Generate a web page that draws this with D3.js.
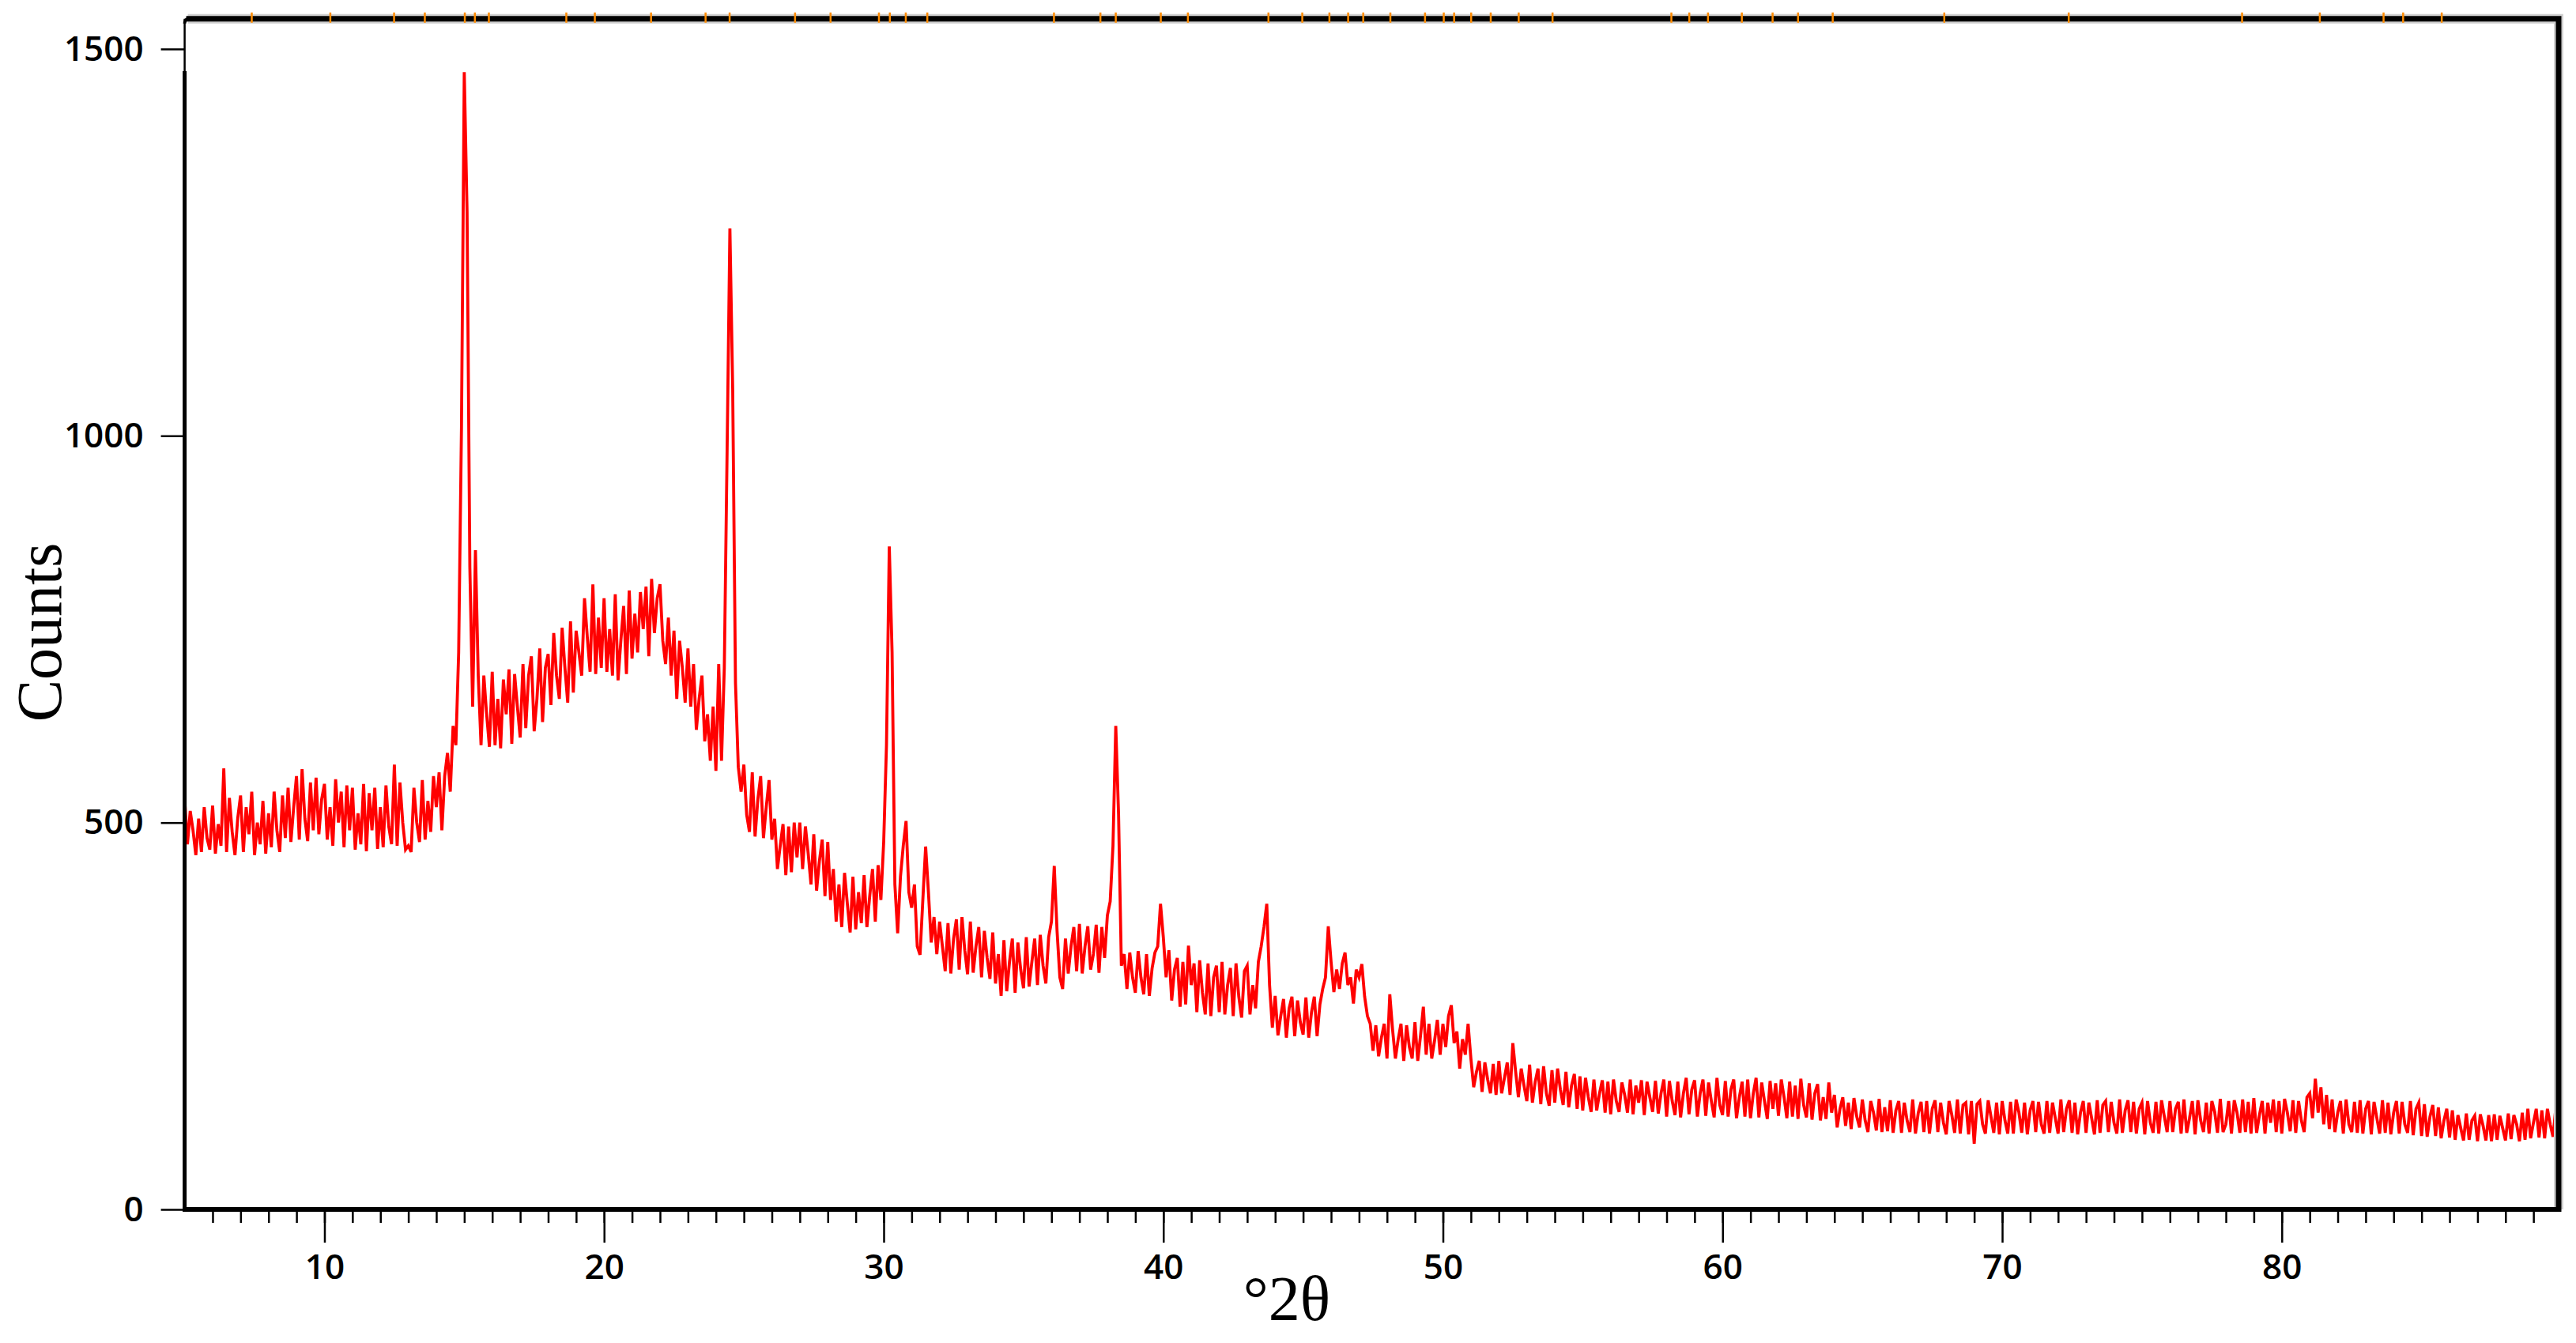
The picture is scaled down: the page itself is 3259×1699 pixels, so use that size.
<!DOCTYPE html>
<html>
<head>
<meta charset="utf-8">
<script src="https://cdn.jsdelivr.net/npm/d3@7"></script>
<style>
  body { margin: 0; background: #fff; }
  .tick text { font-family: "Open Sans", "Noto Sans", sans-serif; font-weight: 600; font-size: 44px; fill: #000; }
  .tick line { stroke: #000; stroke-width: 2.5; }
  .title { font-family: "Liberation Serif", "Times New Roman", serif; font-size: 80px; fill: #000; }
</style>
</head>
<body>
<div id="xrd"></div>
<script>
////////////////////////////////////////////////////////////
// DATA
////////////////////////////////////////////////////////////
// scan starts at 5 deg 2theta, one reading every 0.1 deg (one row = one degree)
var scanStart = 5.0;
var scanStep = 0.1;
var counts = [
  530, 472, 515, 490, 458, 505, 462, 520, 480, 465,   // 5
  522, 460, 498, 470, 570, 462, 532, 488, 458, 506,   // 6
  535, 462, 520, 485, 540, 458, 500, 472, 528, 460,   // 7
  512, 468, 540, 490, 462, 535, 480, 545, 475, 520,   // 8
  560, 478, 569, 505, 476, 552, 490, 558, 485, 530,   // 9
  550, 478, 520, 470, 556, 500, 540, 468, 548, 490,   // 10
  545, 465, 512, 472, 550, 463, 538, 490, 545, 466,   // 11
  520, 468, 548, 495, 472, 575, 470, 552, 500, 465,   // 12
  470, 462, 545, 500, 475, 555, 478, 528, 488, 560,   // 13
  520, 565, 490, 560, 590, 540, 625, 600, 720, 1010,  // 14
  1470, 1290, 830, 650, 852, 690, 600, 690, 640, 598, // 15
  695, 600, 660, 596, 685, 640, 698, 602, 692, 650,   // 16
  610, 705, 622, 690, 715, 618, 660, 725, 630, 700,   // 17
  718, 652, 745, 690, 660, 752, 700, 655, 760, 668,   // 18
  748, 720, 690, 790, 740, 695, 808, 692, 765, 700,   // 19
  790, 695, 750, 690, 795, 684, 735, 780, 692, 800,   // 20
  712, 770, 720, 798, 750, 805, 715, 815, 745, 790,   // 21
  808, 735, 705, 765, 690, 748, 660, 735, 700, 655,   // 22
  725, 650, 705, 620, 660, 690, 605, 640, 580, 650,   // 23
  567, 705, 580, 700, 980, 1268, 1060, 680, 572, 540, // 24
  575, 510, 488, 565, 482, 530, 560, 480, 520, 555,   // 25
  478, 505, 440, 470, 498, 432, 495, 436, 500, 455,   // 26
  500, 440, 495, 460, 420, 485, 412, 450, 478, 405,   // 27
  475, 400, 440, 372, 420, 365, 435, 395, 358, 430,   // 28
  362, 410, 370, 432, 365, 405, 440, 372, 445, 400,   // 29
  475, 600, 857, 720, 420, 357, 430, 470, 502, 410,   // 30
  390, 420, 340, 329, 400, 469, 410, 345, 378, 330,   // 31
  372, 340, 308, 370, 305, 350, 375, 310, 378, 335,   // 32
  304, 372, 306, 340, 365, 300, 360, 325, 298, 358,   // 33
  292, 330, 276, 348, 282, 320, 350, 280, 345, 310,   // 34
  286, 352, 288, 320, 350, 290, 355, 315, 292, 352,   // 35
  372, 444, 360, 300, 285, 350, 305, 340, 365, 308,   // 36
  369, 305, 340, 366, 310, 330, 368, 306, 365, 325,   // 37
  380, 398, 470, 625, 510, 315, 330, 285, 332, 300,   // 38
  280, 334, 300, 278, 330, 276, 312, 332, 340, 395,   // 39
  352, 300, 335, 270, 310, 325, 262, 320, 265, 341,   // 40
  290, 318, 255, 322, 280, 252, 318, 250, 300, 315,   // 41
  255, 320, 252, 290, 312, 250, 318, 275, 248, 308,   // 42
  315, 252, 290, 260, 320, 340, 365, 395, 290, 235,   // 43
  276, 225, 250, 272, 222, 260, 275, 224, 270, 242,   // 44
  226, 274, 222, 255, 275, 224, 265, 285, 300, 366,   // 45
  320, 281, 310, 285, 318, 332, 290, 300, 266, 310,   // 46
  300, 317, 275, 250, 240, 205, 238, 198, 222, 240,   // 47
  195, 278, 232, 195, 220, 240, 192, 238, 210, 195,   // 48
  242, 192, 225, 262, 200, 240, 195, 218, 245, 200,   // 49
  240, 210, 250, 264, 215, 230, 182, 220, 200, 240,   // 50
  195, 158, 178, 192, 152, 190, 168, 150, 188, 148,   // 51
  192, 150, 170, 190, 148, 215, 178, 145, 182, 160,   // 52
  140, 187, 138, 165, 182, 136, 185, 150, 134, 180,   // 53
  138, 182, 155, 135, 178, 132, 160, 175, 130, 172,   // 54
  128, 170, 145, 126, 168, 128, 150, 167, 125, 165,   // 55
  123, 168, 140, 126, 164, 148, 125, 168, 123, 160,   // 56
  138, 167, 122, 165, 145, 126, 166, 124, 150, 168,   // 57
  120, 166, 140, 122, 165, 119, 150, 170, 123, 155,   // 58
  167, 120, 150, 168, 121, 164, 140, 119, 170, 135,   // 59
  122, 166, 120, 155, 168, 118, 145, 165, 120, 168,   // 60
  118, 150, 170, 119, 164, 140, 117, 166, 130, 163,   // 61
  121, 168, 145, 118, 165, 120, 160, 117, 169, 135,   // 62
  119, 163, 116, 150, 162, 115, 145, 117, 164, 125,   // 63
  148, 106, 130, 145, 108, 138, 104, 144, 120, 106,   // 64
  142, 115, 100, 140, 125, 102, 143, 100, 132, 101,   // 65
  141, 99, 128, 140, 99, 138, 115, 100, 142, 98,      // 66
  125, 139, 100, 140, 98, 130, 141, 100, 138, 112,    // 67
  97, 140, 122, 99, 142, 98, 135, 138, 97, 140,       // 68
  85, 136, 140, 110, 98, 141, 120, 99, 138, 97,       // 69
  140, 115, 98, 139, 98, 142, 125, 99, 138, 97,       // 70
  128, 140, 100, 139, 110, 98, 140, 99, 138, 118,     // 71
  98, 142, 100, 130, 141, 99, 138, 97, 125, 140,      // 72
  99, 138, 118, 97, 141, 99, 135, 140, 100, 139,      // 73
  112, 98, 142, 99, 128, 141, 100, 139, 98, 130,      // 74
  138, 97, 140, 112, 99, 139, 98, 141, 120, 100,      // 75
  140, 100, 130, 139, 98, 142, 99, 118, 140, 97,      // 76
  141, 115, 100, 138, 98, 140, 126, 99, 143, 100,     // 77
  110, 140, 98, 141, 125, 99, 142, 100, 139, 98,      // 78
  144, 99, 122, 140, 98, 138, 112, 142, 100, 140,     // 79
  98, 143, 125, 101, 141, 99, 140, 115, 100, 145,     // 80
  150, 118, 169, 125, 158, 110, 148, 104, 142, 100,   // 81
  125, 140, 98, 142, 110, 100, 139, 99, 141, 98,      // 82
  130, 140, 97, 139, 118, 98, 141, 99, 138, 97,       // 83
  125, 140, 98, 139, 110, 99, 140, 96, 130, 138,      // 84
  95, 136, 94, 120, 135, 95, 132, 92, 115, 130,       // 85
  93, 128, 90, 122, 105, 89, 124, 90, 115, 121,       // 86
  88, 123, 108, 89, 122, 88, 123, 90, 121, 105,       // 87
  89, 124, 91, 122, 110, 88, 125, 90, 130, 92,        // 88
  112, 130, 93, 128, 92, 130, 110, 94, 131, 92        // 89
];

// reference pattern markers along the top border (deg 2theta)
var refLines = [7.40, 10.21, 12.49, 13.59, 15.02, 15.38, 15.88, 18.65, 19.67, 21.68,
                23.63, 24.49, 26.83, 28.10, 29.83, 30.22, 30.79, 31.56, 36.09, 37.75,
                38.30, 39.91, 40.88, 43.76, 44.97, 45.94, 46.61, 47.15, 48.12, 49.36,
                50.03, 50.40, 51.01, 51.71, 52.71, 53.92, 58.17, 58.81, 59.48, 60.69,
                61.79, 62.70, 63.94, 67.93, 72.38, 78.58, 81.36, 83.64, 84.34, 85.72];

var xDomain = [5, 89.9];
var yDomain = [0, 1539];
var xMajor = [10, 20, 30, 40, 50, 60, 70, 80];
var xMinor = d3.range(6, 90, 1);
var yMajor = [0, 500, 1000, 1500];

////////////////////////////////////////////////////////////
// DRAW
////////////////////////////////////////////////////////////
make_xrd_plot();

function make_xrd_plot() {
    var W = 3259, H = 1699;
    var svg = d3.select("#xrd").append("svg")
        .attr("width", W)
        .attr("height", H)
        .style("display", "block");

    var x = d3.scaleLinear().domain(xDomain).range([233.6, 3237]);
    var y = d3.scaleLinear().domain(yDomain).range([1530, 1530 - 1539 * 0.9787]);

    var points = counts.map(function(c, i) {
        return { tt: scanStart + i * scanStep, c: c };
    });

    var left = x(xDomain[0]), right = x(xDomain[1]);
    var top = y(yDomain[1]), bottom = y(0);

    // minor ticks every degree on the bottom
    svg.append("g")
        .attr("transform", "translate(0," + bottom + ")")
        .call(d3.axisBottom(x).tickValues(xMinor).tickSize(17).tickFormat(""))
        .call(function(g) { g.select(".domain").remove(); });

    // major ticks + labels
    svg.append("g")
        .attr("transform", "translate(0," + bottom + ")")
        .call(d3.axisBottom(x).tickValues(xMajor).tickSize(42).tickPadding(15).tickFormat(d3.format("d")))
        .call(function(g) { g.select(".domain").remove(); });

    svg.append("g")
        .attr("transform", "translate(" + left + ",0)")
        .call(d3.axisLeft(y).tickValues(yMajor).tickSize(30).tickPadding(22).tickFormat(d3.format("d")))
        .call(function(g) { g.select(".domain").remove(); });

    // the pattern
    var line = d3.line()
        .x(function(d) { return x(d.tt); })
        .y(function(d) { return y(d.c); });
    svg.append("path")
        .datum(points)
        .attr("fill", "none")
        .attr("stroke", "#ff0000")
        .attr("stroke-width", 3.8)
        .attr("stroke-linejoin", "miter")
        .attr("d", line);

    // frame: soft halo along top/right then black
    svg.append("path")
        .attr("d", "M" + (left + 4) + "," + top + "L" + right + "," + top + "L" + right + "," + bottom)
        .attr("fill", "none")
        .attr("stroke", "#d0d0d0")
        .attr("stroke-width", 12);
    svg.append("path")
        .attr("d", "M" + (left + 2) + "," + top + "L" + right + "," + top + "L" + right + "," + (bottom + 3))
        .attr("fill", "none")
        .attr("stroke", "#000")
        .attr("stroke-width", 7)
        .attr("stroke-linejoin", "miter");
    // rounded top-left corner, thin top part of left edge, then the thick y axis
    svg.append("path")
        .attr("d", "M" + left + "," + (top + 6) + "Q" + left + "," + top + " " + (left + 6) + "," + top)
        .attr("fill", "none").attr("stroke", "#000").attr("stroke-width", 4);
    svg.append("line")
        .attr("x1", left).attr("x2", left)
        .attr("y1", top).attr("y2", 90)
        .attr("stroke", "#000").attr("stroke-width", 2.5);
    svg.append("line")
        .attr("x1", left).attr("x2", left)
        .attr("y1", 90).attr("y2", bottom + 3)
        .attr("stroke", "#000").attr("stroke-width", 5);
    svg.append("line")
        .attr("x1", left - 2).attr("x2", right + 3)
        .attr("y1", bottom).attr("y2", bottom)
        .attr("stroke", "#000").attr("stroke-width", 6);

    // orange reference markers on the top border
    svg.append("g").selectAll("line")
        .data(refLines)
        .enter().append("line")
        .attr("x1", function(d) { return x(d); })
        .attr("x2", function(d) { return x(d); })
        .attr("y1", top - 8)
        .attr("y2", top + 5)
        .attr("stroke", "#ff8c00")
        .attr("stroke-width", 2.5);

    // axis titles
    svg.append("text")
        .attr("class", "title")
        .attr("text-anchor", "middle")
        .attr("transform", "translate(77,800) rotate(-90)")
        .text("Counts");
    svg.append("text")
        .attr("class", "title")
        .attr("text-anchor", "middle")
        .attr("x", 1628)
        .attr("y", 1670)
        .text("°2θ");
}
</script>
</body>
</html>
